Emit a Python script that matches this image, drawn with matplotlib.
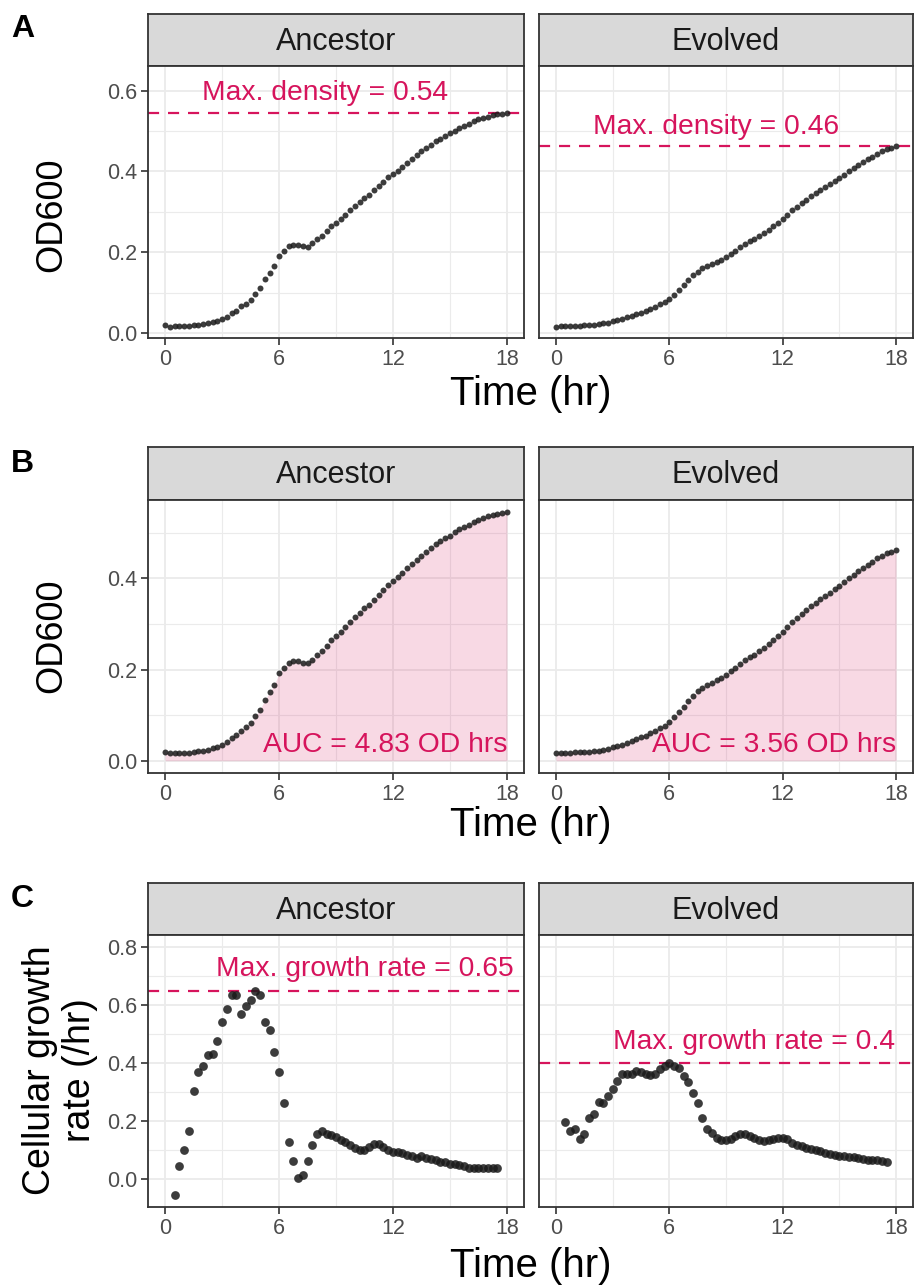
import numpy as np
import matplotlib
matplotlib.use("Agg")
import matplotlib.pyplot as plt

plt.rcParams["font.family"] = ["Liberation Sans", "DejaVu Sans"]

# sampling times (hr)
time_od = np.arange(0, 18.001, 0.25)
time_rate = np.arange(0.5, 17.501, 0.25)

strains = ["Ancestor", "Evolved"]

od_ancestor = [
    0.019, 0.016, 0.017, 0.017, 0.017, 0.017, 0.019, 0.021, 0.022, 0.024,
    0.027, 0.031, 0.035, 0.041, 0.049, 0.056, 0.066, 0.073, 0.082, 0.097,
    0.112, 0.133, 0.150, 0.166, 0.192, 0.203, 0.215, 0.218, 0.219, 0.215,
    0.214, 0.222, 0.232, 0.241, 0.252, 0.265, 0.273, 0.283, 0.293, 0.305,
    0.315, 0.324, 0.334, 0.342, 0.353, 0.363, 0.375, 0.386, 0.394, 0.402,
    0.412, 0.422, 0.431, 0.440, 0.450, 0.458, 0.466, 0.475, 0.481, 0.488,
    0.494, 0.501, 0.508, 0.513, 0.518, 0.524, 0.529, 0.533, 0.536, 0.539,
    0.541, 0.543, 0.545,
]
od_evolved = [
    0.016, 0.017, 0.017, 0.017, 0.018, 0.018, 0.019, 0.020, 0.021, 0.022,
    0.024, 0.026, 0.029, 0.032, 0.035, 0.039, 0.043, 0.047, 0.051, 0.055,
    0.060, 0.065, 0.071, 0.077, 0.085, 0.095, 0.106, 0.118, 0.131, 0.143,
    0.152, 0.160, 0.166, 0.171, 0.177, 0.182, 0.189, 0.196, 0.204, 0.213,
    0.220, 0.227, 0.233, 0.241, 0.248, 0.256, 0.265, 0.273, 0.283, 0.293,
    0.304, 0.313, 0.322, 0.330, 0.339, 0.346, 0.354, 0.361, 0.368, 0.376,
    0.384, 0.392, 0.400, 0.408, 0.416, 0.423, 0.430, 0.437, 0.444, 0.450,
    0.455, 0.459, 0.463,
]

rate_ancestor = [
    -0.054, 0.044, 0.099, 0.166, 0.303, 0.371, 0.392, 0.427, 0.432, 0.475,
    0.544, 0.588, 0.634, 0.636, 0.571, 0.596, 0.618, 0.650, 0.637, 0.543,
    0.515, 0.438, 0.368, 0.264, 0.129, 0.061, 0.002, 0.015, 0.063, 0.118,
    0.154, 0.164, 0.157, 0.151, 0.145, 0.134, 0.126, 0.116, 0.107, 0.101,
    0.101, 0.111, 0.122, 0.120, 0.111, 0.101, 0.092, 0.092, 0.088, 0.084,
    0.078, 0.074, 0.078, 0.074, 0.069, 0.065, 0.060, 0.058, 0.051, 0.051,
    0.048, 0.044, 0.039, 0.038, 0.038, 0.038, 0.038, 0.038, 0.038,
]
rate_evolved = [
    0.196, 0.166, 0.171, 0.139, 0.157, 0.212, 0.225, 0.266, 0.264, 0.287,
    0.312, 0.337, 0.361, 0.362, 0.362, 0.373, 0.370, 0.362, 0.358, 0.361,
    0.379, 0.390, 0.399, 0.392, 0.382, 0.356, 0.334, 0.297, 0.261, 0.212,
    0.174, 0.159, 0.142, 0.134, 0.134, 0.139, 0.150, 0.156, 0.156, 0.148,
    0.142, 0.136, 0.131, 0.134, 0.139, 0.141, 0.141, 0.138, 0.124, 0.118,
    0.113, 0.108, 0.104, 0.099, 0.095, 0.090, 0.085, 0.081, 0.078, 0.078,
    0.076, 0.076, 0.074, 0.069, 0.067, 0.065, 0.065, 0.062, 0.060,
]

max_density = [0.54, 0.46]
auc = [4.83, 3.56]
max_rate = [0.65, 0.4]

W, H = 914, 1286
PINK = "#D6145C"
FONT_TICK = 15.5
FONT_STRIP = 22
FONT_XTITLE = 29
FONT_YTITLE = 26
FONT_NOTE = 20.3

fig = plt.figure(figsize=(W / 100, H / 100), dpi=100)


def rect(left, top, right, bottom):
    return [left / W, 1 - bottom / H, (right - left) / W, (bottom - top) / H]


cols = [(148, 524), (539, 913)]


def make_panel(col, strip_top, top, bottom, ylim, yticks, yminor, label):
    left, right = cols[col]
    s = fig.add_axes(rect(left, strip_top, right, top))
    s.set_facecolor("#D9D9D9")
    s.set_xticks([])
    s.set_yticks([])
    for sp in s.spines.values():
        sp.set_color("#333333")
        sp.set_linewidth(1.3)
    s.text(0.5, 0.47, label, ha="center", va="center", fontsize=FONT_STRIP,
           color="#1A1A1A", transform=s.transAxes)

    ax = fig.add_axes(rect(left, top, right, bottom))
    ax.set_xlim(-0.9, 18.9)
    ax.set_ylim(*ylim)
    ax.set_xticks([0, 6, 12, 18])
    ax.set_xticks([3, 9, 15], minor=True)
    ax.set_yticks(yticks)
    ax.set_yticks(yminor, minor=True)
    ax.grid(which="major", color="#EBEBEB", lw=1.3)
    ax.grid(which="minor", color="#EBEBEB", lw=0.8)
    ax.set_axisbelow(True)
    ax.tick_params(which="major", length=5, width=1.2, color="#333333",
                   labelsize=FONT_TICK, labelcolor="#4D4D4D", pad=3)
    ax.tick_params(which="minor", length=0)
    for sp in ax.spines.values():
        sp.set_color("#333333")
        sp.set_linewidth(1.3)
    if col == 0:
        ax.set_yticklabels([f"{v:.1f}" for v in yticks])
    else:
        ax.tick_params(axis="y", which="both", left=False, labelleft=False)
    return ax


od_data = [od_ancestor, od_evolved]
rate_data = [rate_ancestor, rate_evolved]

# row A: max density
for i, name in enumerate(strains):
    ax = make_panel(i, 14, 66, 338, (-0.012, 0.661),
                    [0.0, 0.2, 0.4, 0.6], [0.1, 0.3, 0.5], name)
    ax.axhline(max(od_data[i]), color=PINK, lw=1.6, ls=(0, (5, 4)))
    ax.plot(time_od, od_data[i], "o", color="#1A1A1A", ms=4.3, mew=0, alpha=0.85)
    ax.text(8.45, max(od_data[i]) + 0.048, f"Max. density = {max_density[i]}",
            ha="center", va="center", color=PINK, fontsize=FONT_NOTE)

# row B: area under curve
for i, name in enumerate(strains):
    ax = make_panel(i, 447, 500, 773, (-0.027, 0.572),
                    [0.0, 0.2, 0.4], [0.1, 0.3, 0.5], name)
    ax.fill_between(time_od, 0, od_data[i], color=PINK, alpha=0.16, lw=0)
    ax.plot(time_od, od_data[i], "o", color="#1A1A1A", ms=4.3, mew=0, alpha=0.85)
    ax.text(18, 0.035, f"AUC = {auc[i]} OD hrs", ha="right", va="center",
            color=PINK, fontsize=FONT_NOTE)

# row C: growth rate
for i, name in enumerate(strains):
    ax = make_panel(i, 883, 935, 1207, (-0.097, 0.843),
                    [0.0, 0.2, 0.4, 0.6, 0.8], [0.1, 0.3, 0.5, 0.7], name)
    ax.axhline(max(rate_data[i]), color=PINK, lw=1.6, ls=(0, (5, 4)))
    ax.plot(time_rate, rate_data[i], "o", color="#1A1A1A", ms=6.3, mew=0, alpha=0.85)
    ax.text(10.5, max(rate_data[i]) + 0.075, f"Max. growth rate = {max_rate[i]}",
            ha="center", va="center", color=PINK, fontsize=FONT_NOTE)

# axis titles and panel letters
for y in [405, 836, 1277]:
    fig.text(531 / W, 1 - y / H, "Time (hr)", ha="center", va="baseline",
             fontsize=FONT_XTITLE)
fig.text(52 / W, 1 - 215 / H, "OD600", ha="center", va="center",
         rotation=90, fontsize=FONT_YTITLE)
fig.text(52 / W, 1 - 636 / H, "OD600", ha="center", va="center",
         rotation=90, fontsize=FONT_YTITLE)
fig.text(60 / W, 1 - 1070 / H, "Cellular growth\nrate (/hr)", ha="center",
         va="center", rotation=90, fontsize=27, linespacing=1.15)

for letter, y in [("A", 29), ("B", 464), ("C", 899)]:
    fig.text(11 / W, 1 - y / H, letter, ha="left", va="center",
             fontsize=23, fontweight="bold")

fig.savefig("out.png", dpi=100)
